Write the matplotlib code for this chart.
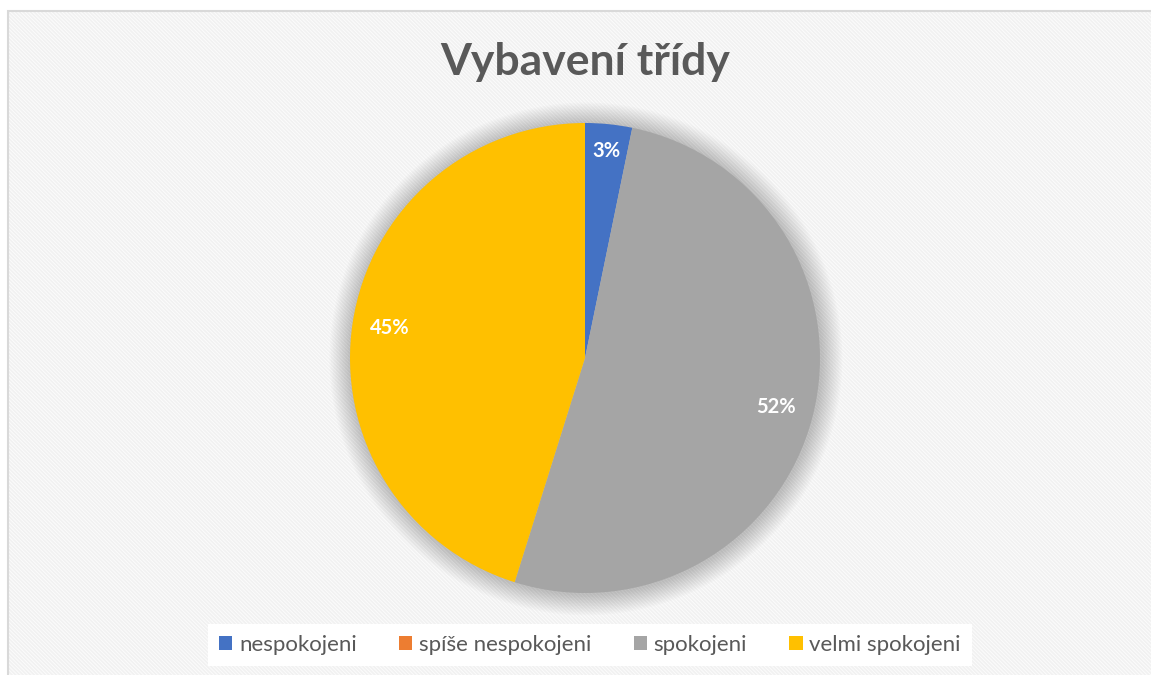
import matplotlib.pyplot as plt
from matplotlib.patches import Rectangle, Circle, Patch

categories = ['nespokojeni', 'spíše nespokojeni', 'spokojeni', 'velmi spokojeni']
counts = [1, 0, 16, 14]
colors = ['#4472C4', '#ED7D31', '#A5A5A5', '#FFC000']
title = 'Vybavení třídy'

plt.rcParams['font.family'] = ['Lato', 'DejaVu Sans']
plt.rcParams['hatch.linewidth'] = 1.2

W, H = 1151, 675
fig = plt.figure(figsize=(W / 100, H / 100), dpi=100)
fig.patch.set_facecolor('white')

# striped chart background + thin border on the left/top
bg = Rectangle((8 / W, 0), 1.2, (H - 11) / H, transform=fig.transFigure,
               facecolor='#fcfcfc', edgecolor='#f1f1f1', hatch='\\' * 9,
               linewidth=0, zorder=-2)
fig.patches.append(bg)
border = Rectangle((8 / W, -0.2), 1.2, (H - 11) / H + 0.2, transform=fig.transFigure,
                   facecolor='none', edgecolor='#d9d9d9', linewidth=1.5, zorder=-1)
fig.patches.append(border)

# pie axes: centre at (585, 358) px, radius 235 px
R = 235
side = 2.2 * R
ax = fig.add_axes([(585 - side / 2) / W, (H - 358 - side / 2) / H, side / W, side / H])
ax.set_zorder(1)
ax.patch.set_visible(False)
ax.axis('off')

# soft shadow around the pie
for i in range(14):
    ax.add_patch(Circle((0.004, -0.004), 1 + 0.0065 * (i + 1), facecolor='#000000',
                        alpha=0.016, linewidth=0, zorder=1))


def fmt(p):
    return f'{p:.0f}%' if p >= 0.5 else ''


wedges, texts, autotexts = ax.pie(counts, colors=colors, startangle=90, counterclock=False,
                                  autopct=fmt, pctdistance=0.84, radius=1,
                                  wedgeprops=dict(linewidth=0, zorder=2),
                                  textprops=dict(color='white', fontsize=14.5, fontweight='bold'))
for t in autotexts:
    t.set_zorder(3)
# the small slice label sits a bit further out
x0, y0 = autotexts[0].get_position()
autotexts[0].set_position((x0 * 0.885 / 0.84, y0 * 0.885 / 0.84))
ax.set_xlim(-1.1, 1.1)
ax.set_ylim(-1.1, 1.1)
ax.set_aspect('equal')

fig.text(585 / W, 1 - 62 / H, title, ha='center', va='center', fontsize=32,
         fontweight='bold', color='#595959')

handles = [Patch(facecolor=c, edgecolor='none') for c in colors]
leg = fig.legend(handles, categories, loc='center', bbox_to_anchor=(590 / W, 1 - 645 / H),
                 ncol=4, frameon=True, fancybox=False, fontsize=16, handlelength=0.6,
                 handleheight=0.6, handletextpad=0.3, columnspacing=1.9,
                 labelcolor='#595959', borderpad=0.5)
leg.get_frame().set_facecolor('white')
leg.get_frame().set_edgecolor('none')
leg.get_frame().set_alpha(1)
leg.set_zorder(2)

fig.savefig('out.png', dpi=100)
